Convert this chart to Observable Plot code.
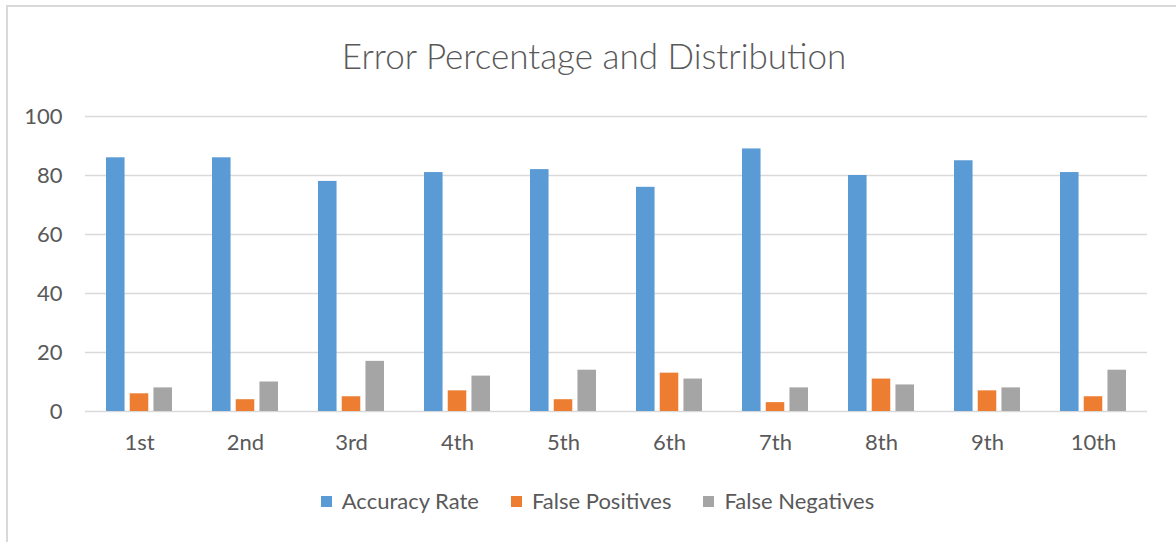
<!DOCTYPE html>
<html>
<head>
<meta charset="utf-8">
<script src="https://cdn.jsdelivr.net/npm/d3@7"></script>
<script src="https://cdn.jsdelivr.net/npm/@observablehq/plot@0.6"></script>
<style>
  html, body { margin: 0; padding: 0; background: #fff; }
  #frame { position: relative; width: 1176px; height: 542px; overflow: hidden; font-family: Lato, "Open Sans", sans-serif; color: #595959; }
  #border { position: absolute; left: 6px; top: 5px; width: 1200px; height: 600px; border-left: 2px solid #d9d9d9; border-top: 2px solid #d9d9d9; pointer-events: none; }
  #title { box-sizing: border-box; width: 1176px; height: 95px; padding-top: 35px; padding-left: 12px; text-align: center; font-size: 35px; font-weight: 300; line-height: 40px; color: #595959; white-space: nowrap; }
  #chart svg { display: block; }
  #legend { box-sizing: border-box; width: 1176px; height: 81px; padding-top: 28px; padding-left: 19px; display: flex; justify-content: center; align-items: flex-start; font-size: 22px; line-height: 24px; color: #595959; }
  .item { display: flex; align-items: center; margin: 0 16px; height: 24px; }
  .sw { width: 11px; height: 11px; margin-right: 10px; }
</style>
</head>
<body>
<div id="frame">
  <div id="border"></div>
  <div id="title">Error Percentage and Distribution</div>
  <div id="chart"></div>
  <div id="legend"></div>
</div>
<script>
const categories = ["1st", "2nd", "3rd", "4th", "5th", "6th", "7th", "8th", "9th", "10th"];
const accuracyRate = [86, 86, 78, 81, 82, 76, 89, 80, 85, 81];
const falsePositives = [6, 4, 5, 7, 4, 13, 3, 11, 7, 5];
const falseNegatives = [8, 10, 17, 12, 14, 11, 8, 9, 8, 14];
const seriesNames = ["Accuracy Rate", "False Positives", "False Negatives"];
const seriesColors = ["#5B9BD5", "#ED7D31", "#A5A5A5"];
const yTicks = [0, 20, 40, 60, 80, 100];

const seriesValues = [accuracyRate, falsePositives, falseNegatives];
const data = seriesNames.map((s, i) => categories.map((c, j) => ({category: c, series: s, value: seriesValues[i][j]})));

const W = 1176, H = 366;
const mL = 85, mR = 29, mT = 21, mB = 50;
const padIn = 0.378, padOut = 0.189;
const band = d3.scaleBand().domain(categories).range([mL, W - mR]).paddingInner(padIn).paddingOuter(padOut).bandwidth();
const barW = 18.6;
const slot = (band - barW) / 2;

const barMarks = data.map((rows, i) => Plot.barY(rows, {
  x: "category", y: "value", fill: seriesColors[i],
  insetLeft: i * slot, insetRight: band - barW - i * slot
}));

const plot = Plot.plot({
  width: W, height: H,
  marginLeft: mL, marginRight: mR, marginTop: mT, marginBottom: mB,
  style: { fontFamily: "Lato, 'Open Sans', sans-serif", fontSize: "22px", color: "#595959", background: "transparent" },
  x: { type: "band", domain: categories, paddingInner: padIn, paddingOuter: padOut, label: null },
  y: { domain: [0, 100], label: null },
  marks: [
    Plot.ruleY(yTicks, { stroke: "#d9d9d9", strokeWidth: 1.6 }),
    ...barMarks,
    Plot.axisY({ ticks: yTicks, tickSize: 0, tickPadding: 23, label: null, fill: "#595959" }),
    Plot.axisX({ tickSize: 0, tickPadding: 23, label: null, fill: "#595959" })
  ]
});
document.getElementById("chart").appendChild(plot);

const legend = document.getElementById("legend");
seriesNames.forEach((s, i) => {
  const item = document.createElement("div");
  item.className = "item";
  const sw = document.createElement("span");
  sw.className = "sw";
  sw.style.background = seriesColors[i];
  const t = document.createElement("span");
  t.textContent = s;
  item.appendChild(sw);
  item.appendChild(t);
  legend.appendChild(item);
});
</script>
</body>
</html>
